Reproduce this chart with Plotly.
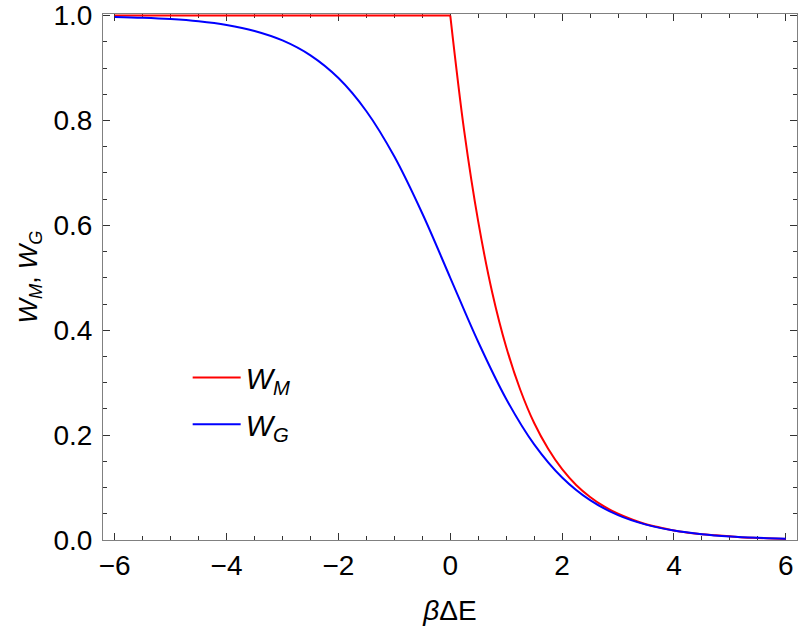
import plotly.graph_objects as go

# Metropolis rate W_M
xm_flat = [-6.0, 0.0]
ym_flat = [1.0, 1.0]
xm_decay = [0.0, 0.25, 0.5, 0.75, 1.0, 1.25, 1.5, 1.75, 2.0, 2.25, 2.5, 2.75, 3.0,
            3.25, 3.5, 3.75, 4.0, 4.25, 4.5, 4.75, 5.0, 5.25, 5.5, 5.75, 6.0]
ym_decay = [1.000, 0.779, 0.607, 0.472, 0.368, 0.287, 0.223, 0.174, 0.135, 0.105,
            0.082, 0.064, 0.050, 0.039, 0.030, 0.024, 0.018, 0.014, 0.011, 0.009,
            0.007, 0.005, 0.004, 0.003, 0.002]

# Glauber rate W_G
xg = [-6.0, -5.5, -5.0, -4.5, -4.0, -3.5, -3.0, -2.5, -2.0, -1.5, -1.0, -0.5, 0.0,
      0.5, 1.0, 1.5, 2.0, 2.5, 3.0, 3.5, 4.0, 4.5, 5.0, 5.5, 6.0]
yg = [0.9975, 0.9959, 0.9933, 0.9890, 0.9820, 0.9707, 0.9526, 0.9241, 0.8808,
      0.8176, 0.7311, 0.6225, 0.5000, 0.3775, 0.2689, 0.1824, 0.1192, 0.0759,
      0.0474, 0.0293, 0.0180, 0.0110, 0.0067, 0.0041, 0.0025]

x_ticks = [-6, -4, -2, 0, 2, 4, 6]
x_labels = ["\u22126", "\u22124", "\u22122", "0", "2", "4", "6"]
y_ticks = [0.0, 0.2, 0.4, 0.6, 0.8, 1.0]
y_labels = ["0.0", "0.2", "0.4", "0.6", "0.8", "1.0"]

RED = "#ff0000"
BLUE = "#0000ff"

fig = go.Figure()
fig.add_trace(go.Scatter(x=xm_flat, y=ym_flat, mode="lines", name="<i>W<sub>M</sub></i>",
                         legendgroup="m", line=dict(color=RED, width=2)))
fig.add_trace(go.Scatter(x=xm_decay, y=ym_decay, mode="lines", showlegend=False,
                         legendgroup="m",
                         line=dict(color=RED, width=2, shape="spline")))
fig.add_trace(go.Scatter(x=xg, y=yg, mode="lines", name="<i>W<sub>G</sub></i>",
                         line=dict(color=BLUE, width=2, shape="spline")))

FONT = "Liberation Sans, Arial, sans-serif"
axis_common = dict(
    showline=True, linecolor="#808080", linewidth=1, mirror="allticks",
    ticks="inside", ticklen=7, tickwidth=1, tickcolor="#333333",
    showgrid=False, zeroline=False, layer="below traces",
    ticklabeloverflow="allow",
    tickfont=dict(family=FONT, size=28, color="black"),
)

fig.update_layout(
    width=798, height=635,
    margin=dict(l=103, r=1, t=14, b=95),
    plot_bgcolor="white", paper_bgcolor="white",
    font=dict(family=FONT, color="black"),
    xaxis=dict(range=[-6.21, 6.2], tickvals=x_ticks, ticktext=x_labels,
               minor=dict(dtick=0.5, ticks="inside", ticklen=4, tickcolor="#333333"),
               title=dict(text="<i>\u03b2</i>\u0394E", font=dict(size=28), standoff=20),
               ticklabelstandoff=0,
               **axis_common),
    yaxis=dict(range=[0, 1.003], tickvals=y_ticks, ticktext=y_labels,
               minor=dict(dtick=0.05, ticks="inside", ticklen=4, tickcolor="#333333"),
               title=dict(text="<i>W<sub>M</sub></i>, <i>W<sub>G</sub></i>", font=dict(size=26), standoff=8),
               ticklabelstandoff=4,
               **axis_common),
    legend=dict(x=0.122, y=0.357, xanchor="left", yanchor="top",
                bgcolor="rgba(0,0,0,0)", font=dict(size=29),
                itemwidth=48, tracegroupgap=6),
)

fig.write_html("out.html")
